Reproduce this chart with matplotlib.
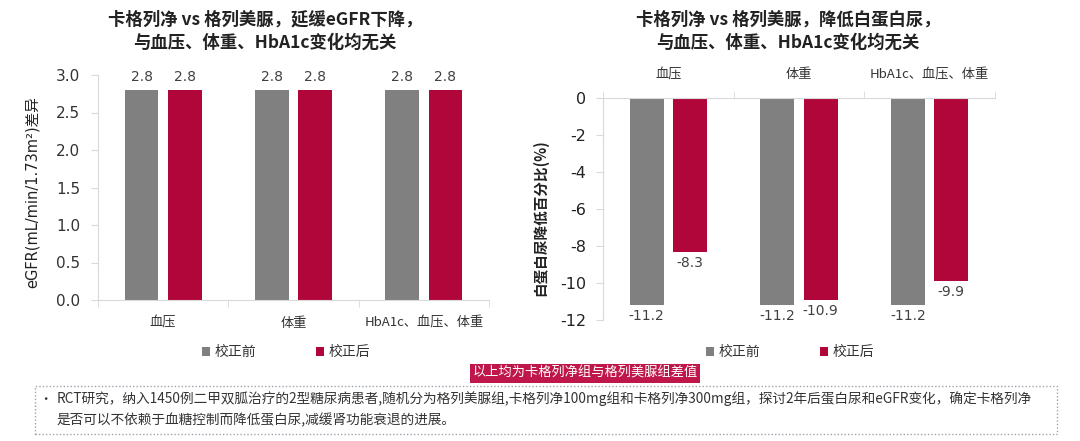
import matplotlib
matplotlib.use("Agg")
import matplotlib.pyplot as plt
from matplotlib.patches import Rectangle
import numpy as np

plt.rcParams['font.family'] = ['Noto Sans CJK SC', 'DejaVu Sans']

# ---- data ----
categories = ['血压', '体重', 'HbA1c、血压、体重']
series_names = ['校正前', '校正后']
egfr_before = [2.8, 2.8, 2.8]
egfr_after = [2.8, 2.8, 2.8]
alb_before = [-11.2, -11.2, -11.2]
alb_after = [-8.3, -10.9, -9.9]
left_yticks = [0.0, 0.5, 1.0, 1.5, 2.0, 2.5, 3.0]
right_yticks = [0, -2, -4, -6, -8, -10, -12]

title_left = '卡格列净 vs 格列美脲，延缓eGFR下降，\n与血压、体重、HbA1c变化均无关'
title_right = '卡格列净 vs 格列美脲，降低白蛋白尿，\n与血压、体重、HbA1c变化均无关'
ylabel_left = 'eGFR(mL/min/1.73m²)差异'
ylabel_right = '白蛋白尿降低百分比(%)'
note_box = '以上均为卡格列净组与格列美脲组差值'
footnote_1 = 'RCT研究，纳入1450例二甲双胍治疗的2型糖尿病患者,随机分为格列美脲组,卡格列净100mg组和卡格列净300mg组，探讨2年后蛋白尿和eGFR变化，确定卡格列净'
footnote_2 = '是否可以不依赖于血糖控制而降低蛋白尿,减缓肾功能衰退的进展。'

GRAY = '#808080'
RED = '#B0063A'
SPINE = '#D9D9D9'
TXT = '#404040'

W, H = 1080, 441
fig = plt.figure(figsize=(W / 100, H / 100), dpi=100)

def fx(px):
    return px / W

def fy(py):
    return 1 - py / H

x = np.arange(len(categories))
bw = 0.26
off = 0.166

# ---------------- left chart ----------------
axL = fig.add_axes([fx(98), fy(300), fx(489) - fx(98), fy(75) - fy(300)])
b1 = axL.bar(x - off, egfr_before, bw, color=GRAY)
b2 = axL.bar(x + off, egfr_after, bw, color=RED)
axL.set_xlim(-0.5, 2.5)
axL.set_ylim(0, 3.0)
axL.set_yticks(left_yticks)
axL.set_yticklabels([f'{v:.1f}' for v in left_yticks], family='DejaVu Sans',
                    fontsize=11, color='#333333')
axL.tick_params(axis='y', length=5, color=SPINE, pad=8)
axL.set_xticks(x)
axL.set_xticklabels(categories, fontsize=9.5, color='#333333')
axL.tick_params(axis='x', which='major', length=0, pad=12)
axL.set_xticks([-0.5, 0.5, 1.5, 2.5], minor=True)
axL.tick_params(axis='x', which='minor', length=5, color=SPINE)
for s in ['top', 'right']:
    axL.spines[s].set_visible(False)
for s in ['left', 'bottom']:
    axL.spines[s].set_color(SPINE)
for bars, vals in ((b1, egfr_before), (b2, egfr_after)):
    for r, v in zip(bars, vals):
        axL.annotate(f'{v:.1f}', (r.get_x() + r.get_width() / 2, v),
                     xytext=(0, 4), textcoords='offset points', ha='center',
                     va='bottom', fontsize=10, color=TXT, family='DejaVu Sans')
axL.set_ylabel(ylabel_left, fontsize=10.5, color='#222222',
               family=['DejaVu Sans', 'Noto Sans CJK SC'])
axL.yaxis.set_label_coords(-0.148, 0.48)
fig.text(fx(265), fy(31), title_left, ha='center', va='center', fontsize=12.5,
         fontweight='bold', color='#222222', linespacing=1.35)
axL.legend([b1, b2], series_names, loc='center', bbox_to_anchor=(fx(286), fy(352)),
           bbox_transform=fig.transFigure, ncol=2, frameon=False, fontsize=10,
           handlelength=0.6, handleheight=0.6, handletextpad=0.3, columnspacing=4.3,
           labelcolor='#333333')

# ---------------- right chart ----------------
axR = fig.add_axes([fx(603), fy(320), fx(995) - fx(603), fy(98) - fy(320)])
c1 = axR.bar(x - off, alb_before, bw, color=GRAY)
c2 = axR.bar(x + off, alb_after, bw, color=RED)
axR.set_xlim(-0.5, 2.5)
axR.set_ylim(-12, 0)
axR.set_yticks(right_yticks)
axR.set_yticklabels([str(v) for v in right_yticks], family='DejaVu Sans',
                    fontsize=11.5, color='#222222')
axR.tick_params(axis='y', length=5, color=SPINE, pad=7)
axR.xaxis.tick_top()
axR.set_xticks(x)
axR.set_xticklabels(categories, fontsize=9.5, color='#333333')
axR.tick_params(axis='x', which='major', length=0, pad=12)
axR.set_xticks([-0.5, 0.5, 1.5, 2.5], minor=True)
axR.tick_params(axis='x', which='minor', length=5, color=SPINE, top=True, bottom=False)
for s in ['bottom', 'right']:
    axR.spines[s].set_visible(False)
for s in ['left', 'top']:
    axR.spines[s].set_color(SPINE)
for bars, vals in ((c1, alb_before), (c2, alb_after)):
    for r, v in zip(bars, vals):
        axR.annotate(f'{v:.1f}', (r.get_x() + r.get_width() / 2, v),
                     xytext=(0, -3), textcoords='offset points', ha='center',
                     va='top', fontsize=10, color=TXT, family='DejaVu Sans')
axR.set_ylabel(ylabel_right, fontsize=10.5, fontweight='bold', color='#222222')
axR.yaxis.set_label_coords(-0.14, 0.46)
fig.text(fx(788), fy(31), title_right, ha='center', va='center', fontsize=12.5,
         fontweight='bold', color='#222222', linespacing=1.35)
axR.legend([c1, c2], series_names, loc='center', bbox_to_anchor=(fx(790), fy(352)),
           bbox_transform=fig.transFigure, ncol=2, frameon=False, fontsize=10,
           handlelength=0.6, handleheight=0.6, handletextpad=0.3, columnspacing=4.3,
           labelcolor='#333333')

# ---------------- annotations ----------------
fig.add_artist(Rectangle((fx(470), fy(383)), fx(700) - fx(470), fy(364) - fy(383),
                         transform=fig.transFigure, facecolor='#C0174B', edgecolor='none'))
fig.text(fx(585), fy(373.5), note_box, ha='center', va='center', fontsize=9.5, color='white')

fig.add_artist(Rectangle((fx(35), fy(434)), fx(1057) - fx(35), fy(386) - fy(434),
                         transform=fig.transFigure, facecolor='none', edgecolor='#9AA5B0',
                         linestyle=(0, (1, 1.5)), linewidth=1))
fig.text(fx(45), fy(399), '•', ha='center', va='center', fontsize=9, color='#333333')
fig.text(fx(57), fy(399), footnote_1, ha='left', va='center', fontsize=9.85, color='#333333')
fig.text(fx(57), fy(420), footnote_2, ha='left', va='center', fontsize=9.85, color='#333333')

fig.savefig('out.png', dpi=100)
